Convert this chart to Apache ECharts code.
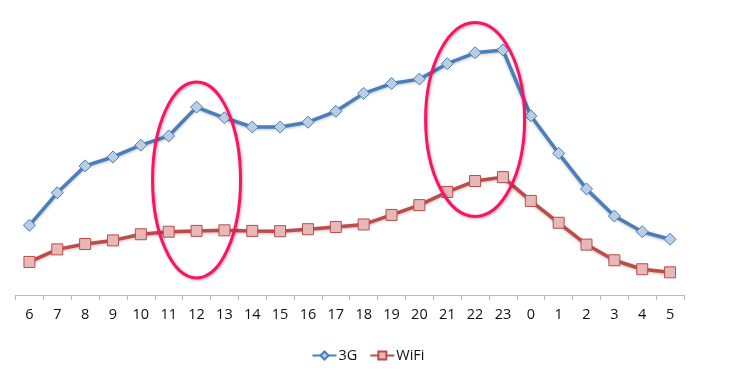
<!DOCTYPE html>
<html>
<head>
<meta charset="utf-8">
<script src="https://cdn.jsdelivr.net/npm/echarts@6/dist/echarts.min.js"></script>
<style>
html,body{margin:0;padding:0;background:#fff;}
#chart{width:736px;height:377px;}
</style>
</head>
<body>
<div id="chart"></div>
<script>
var hours = ['6','7','8','9','10','11','12','13','14','15','16','17','18','19','20','21','22','23','0','1','2','3','4','5'];
var series3G = [24.9,36.5,46.1,49.3,53.5,56.8,67.1,63.3,60.0,60.0,61.7,65.6,72.0,75.5,77.1,82.6,86.5,87.5,64.0,50.6,37.9,28.2,22.6,19.9];
var seriesWiFi = [11.8,16.3,18.2,19.5,21.7,22.6,22.9,23.1,22.9,22.8,23.5,24.3,25.2,28.6,32.1,36.8,40.7,42.1,33.6,25.8,18.0,12.4,9.2,8.1];
// highlighted regions: [category, vertical centre value]
var highlights = [['12', 41.1], ['22', 62.7]];

var chart = echarts.init(document.getElementById('chart'));
var font = '"Open Sans", "Liberation Sans", sans-serif';
chart.setOption({
  animation: false,
  backgroundColor: '#fff',
  grid: {left: 15.5, right: 52, top: 15, bottom: 82},
  legend: {
    top: 343, left: 'center',
    itemWidth: 24, itemHeight: 10, itemGap: 12,
    textStyle: {fontFamily: font, fontSize: 14.5, color: '#111', padding: [0, 0, 0, -3]},
    data: ['3G', 'WiFi']
  },
  xAxis: {
    type: 'category', data: hours, boundaryGap: true,
    axisLine: {lineStyle: {color: '#b8b8b8', width: 1}},
    axisTick: {show: true, length: 5, lineStyle: {color: '#b8b8b8'}},
    axisLabel: {fontFamily: font, fontSize: 14.5, color: '#111', margin: 12, interval: 0}
  },
  yAxis: {
    type: 'value', min: 0, max: 100, show: false, splitLine: {show: false}
  },
  series: [
    {
      name: '3G', type: 'line', data: series3G,
      symbol: 'diamond', symbolSize: 12,
      lineStyle: {color: '#4A7EBB', width: 3.5, shadowColor: 'rgba(0,0,0,0.25)', shadowBlur: 3, shadowOffsetY: 1},
      itemStyle: {color: '#B9CDE5', borderColor: '#4A7EBB', borderWidth: 1}
    },
    {
      name: 'WiFi', type: 'line', data: seriesWiFi,
      symbol: 'rect', symbolSize: 11,
      lineStyle: {color: '#BE4B48', width: 3.5, shadowColor: 'rgba(0,0,0,0.25)', shadowBlur: 3, shadowOffsetY: 1},
      itemStyle: {color: '#E6B9B8', borderColor: '#BE4B48', borderWidth: 1}
    }
  ]
});

var ellipseSizes = [[44, 98], [49.5, 97]];
var graphics = highlights.map(function (h, i) {
  var p = chart.convertToPixel({gridIndex: 0}, [h[0], h[1]]);
  return {
    type: 'ellipse',
    shape: {cx: p[0], cy: p[1], rx: ellipseSizes[i][0], ry: ellipseSizes[i][1]},
    style: {fill: null, stroke: '#FF1166', lineWidth: 3, shadowColor: 'rgba(0,0,0,0.3)', shadowBlur: 3, shadowOffsetX: 1, shadowOffsetY: 1},
    z: 100
  };
});
chart.setOption({graphic: graphics});
</script>
</body>
</html>
